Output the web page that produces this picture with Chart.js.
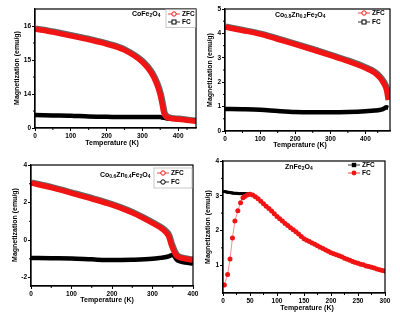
<!DOCTYPE html>
<html>
<head>
<meta charset="utf-8">
<script src="https://cdn.jsdelivr.net/npm/chart.js@4.4.1/dist/chart.umd.min.js"></script>
<style>
body { margin: 0; background: #fff; }
#wrap { position: relative; width: 400px; height: 326px; overflow: hidden; }
canvas { position: absolute; }
</style>
</head>
<body>
<div id="wrap">
  <canvas id="c1" width="200" height="160" style="left:0;top:0"></canvas>
  <canvas id="c2" width="200" height="160" style="left:200px;top:0"></canvas>
  <canvas id="c3" width="200" height="166" style="left:0;top:160px"></canvas>
  <canvas id="c4" width="200" height="171" style="left:200px;top:155px"></canvas>
</div>
<script>
// ---- CoFe2O4 (axis units: ticks 0,1,2,3 carry the labels below)
const temp1 = [0, 50, 100, 150, 200, 250, 300, 325, 340, 350, 355, 360, 365, 370, 380, 400, 425, 450];
const zfc1 = [2.91, 2.82, 2.71, 2.6, 2.47, 2.29, 1.94, 1.62, 1.3, 0.97, 0.72, 0.45, 0.35, 0.31, 0.28, 0.26, 0.23, 0.2];
const fc1 = [0.38, 0.37, 0.36, 0.34, 0.33, 0.32, 0.32, 0.32, 0.32, 0.32, 0.31, 0.3, 0.29, 0.28, 0.27, 0.26, 0.23, 0.21];
const yTickLabels1 = ['0', '14', '15', '16'];
const xTicks1 = [0, 100, 200, 300, 400];

// ---- Co0.8Zn0.2Fe2O4
const temp2 = [0, 50, 100, 150, 200, 250, 300, 350, 400, 425, 440, 450, 460, 465];
const zfc2 = [4.26, 4.12, 3.97, 3.76, 3.55, 3.33, 3.1, 2.86, 2.58, 2.4, 2.2, 2.0, 1.68, 1.27];
const fc2 = [0.9, 0.89, 0.87, 0.82, 0.78, 0.77, 0.77, 0.78, 0.81, 0.84, 0.86, 0.9, 0.97, 0.95];
const yTicks2 = [0, 1, 2, 3, 4, 5];
const xTicks2 = [0, 100, 200, 300, 400];

// ---- Co0.6Zn0.4Fe2O4
const temp3 = [0, 50, 100, 150, 200, 250, 300, 320, 330, 340, 345, 350, 355, 360, 370, 380, 400];
const zfc3 = [3.04, 2.79, 2.5, 2.2, 1.87, 1.45, 0.9, 0.65, 0.48, 0.2, -0.16, -0.45, -0.7, -0.85, -0.95, -1.0, -1.07];
const fc3 = [-0.96, -0.97, -0.98, -1.03, -1.07, -1.05, -1.0, -0.95, -0.92, -0.87, -0.82, -0.8, -0.9, -1.05, -1.15, -1.2, -1.25];
const yTicks3 = [-2, 0, 2, 4];
const xTicks3 = [0, 100, 200, 300, 400];

// ---- ZnFe2O4
const tempZfc4 = [2, 4, 6, 8, 10, 12, 14, 16, 18, 20, 22, 24, 26, 28, 30, 32, 34, 36, 38, 40, 42, 44, 46, 48, 50];
const zfc4 = [3.12, 3.12, 3.11, 3.1, 3.1, 3.09, 3.09, 3.08, 3.08, 3.07, 3.07, 3.07, 3.07, 3.06, 3.06, 3.06, 3.06, 3.06,
  3.06, 3.06, 3.06, 3.05, 3.05, 3.05, 3.05];
const tempFc4 = [2.5, 8.5, 13, 17.5, 22, 27.5, 32.5, 37, 40, 45, 50, 55, 60, 65, 70, 75, 80, 85, 90, 95,
  100, 105, 110, 115, 120, 125, 130, 135, 140, 145, 150, 155, 160, 165, 170, 175, 180, 185, 190, 195,
  200, 205, 210, 215, 220, 225, 230, 235, 240, 245, 250, 255, 260, 265, 270, 275, 280, 285, 290, 295, 300];
const fc4 = [0.43, 0.73, 1.18, 1.78, 2.27, 2.57, 2.8, 2.94, 2.98, 3.02, 3.04, 3.02, 2.97, 2.91, 2.84, 2.77, 2.7, 2.63, 2.56, 2.48,
  2.4, 2.34, 2.27, 2.2, 2.14, 2.08, 2.02, 1.96, 1.9, 1.83, 1.76, 1.72, 1.68, 1.64, 1.6, 1.56, 1.52, 1.48, 1.44, 1.4,
  1.36, 1.33, 1.3, 1.27, 1.24, 1.2, 1.17, 1.14, 1.11, 1.08, 1.06, 1.03, 1.01, 0.98, 0.96, 0.94, 0.92, 0.89, 0.87, 0.85, 0.83];
const yTicks4 = [1, 2, 3, 4];
const xTicks4 = [0, 50, 100, 150, 200, 250, 300];

const RED = '#f01414';
const FONT = 'Liberation Sans, Arial, sans-serif';
const deco = {};

function pts(xs, ys) {
    return xs.map((x, i) => ({ x: x, y: ys[i] }));
}

// text with subscript parts: [text, isSub]
function drawRich(ctx, parts, x, y, size) {
    let cx = x;
    parts.forEach(p => {
        const sub = p[1];
        ctx.font = 'bold ' + (sub ? size * 0.7 : size) + 'px ' + FONT;
        ctx.fillText(p[0], cx, sub ? y + 2 : y);
        cx += ctx.measureText(p[0]).width;
    });
}

function drawMarker(ctx, type, x, y, color) {
    ctx.save();
    ctx.strokeStyle = color;
    ctx.fillStyle = color;
    ctx.lineWidth = 1;
    if (type === 'circleOpen') {
        ctx.fillStyle = '#fff';
        ctx.beginPath(); ctx.arc(x, y, 2.2, 0, Math.PI * 2); ctx.fill(); ctx.stroke();
    } else if (type === 'squareOpen') {
        ctx.fillStyle = '#fff';
        ctx.fillRect(x - 2, y - 2, 4, 4); ctx.strokeRect(x - 2, y - 2, 4, 4);
    } else if (type === 'square') {
        ctx.fillRect(x - 2.2, y - 2.2, 4.4, 4.4);
    } else {
        ctx.beginPath(); ctx.arc(x, y, 2.4, 0, Math.PI * 2); ctx.fill();
    }
    ctx.restore();
}

const decoPlugin = {
    id: 'deco',
    beforeDatasetDraw(chart, args) {
        if (chart.data.datasets[args.index].shadow) {
            const c = chart.ctx;
            c.save();
            c.shadowColor = 'rgba(0,0,0,0.6)';
            c.shadowOffsetX = 1;
            c.shadowOffsetY = -0.8;
            c.shadowBlur = 0.5;
        }
    },
    afterDatasetDraw(chart, args) {
        if (chart.data.datasets[args.index].shadow) chart.ctx.restore();
    },
    afterDraw(chart) {
        const d = deco[chart.canvas.id];
        const ctx = chart.ctx;
        const a = chart.chartArea;
        const xs = chart.scales.x, ys = chart.scales.y;
        ctx.save();
        // frame
        ctx.strokeStyle = '#000';
        ctx.lineWidth = 1.2;
        ctx.strokeRect(a.left, a.top, a.right - a.left, a.bottom - a.top);
        // minor ticks
        ctx.lineWidth = 1;
        ctx.beginPath();
        for (let i = 0; i < d.xTicks.length - 1; i++) {
            const px = xs.getPixelForValue((d.xTicks[i] + d.xTicks[i + 1]) / 2);
            ctx.moveTo(px, a.bottom); ctx.lineTo(px, a.bottom + 2);
        }
        for (let i = 0; i < d.yTicks.length - 1; i++) {
            const py = ys.getPixelForValue((d.yTicks[i] + d.yTicks[i + 1]) / 2);
            ctx.moveTo(a.left, py); ctx.lineTo(a.left - 2, py);
        }
        ctx.stroke();
        // axis titles
        ctx.fillStyle = '#000';
        ctx.font = 'bold 7px ' + FONT;
        ctx.textAlign = 'center';
        ctx.textBaseline = 'middle';
        ctx.fillText('Temperature (K)', d.xTitle[0], d.xTitle[1]);
        ctx.save();
        ctx.translate(d.yTitle[0], d.yTitle[1]);
        ctx.rotate(-Math.PI / 2);
        ctx.fillText('Magnetization (emu/g)', 0, 0);
        ctx.restore();
        // sample name
        ctx.textAlign = 'left';
        drawRich(ctx, d.name, d.namePos[0], d.namePos[1], 7);
        // legend
        if (d.legendBox) {
            ctx.strokeStyle = '#bbb';
            ctx.lineWidth = 0.8;
            ctx.strokeRect(d.legendBox[0], d.legendBox[1], d.legendBox[2], d.legendBox[3]);
        }
        d.legend.forEach(it => {
            ctx.strokeStyle = it.color;
            ctx.lineWidth = 0.8;
            ctx.beginPath();
            ctx.moveTo(it.x, it.y); ctx.lineTo(it.x + 12, it.y);
            ctx.stroke();
            drawMarker(ctx, it.marker, it.x + 6, it.y, it.color);
            ctx.fillStyle = '#000';
            ctx.font = 'bold 6.5px ' + FONT;
            ctx.fillText(it.label, it.x + 14, it.y);
        });
        ctx.restore();
    }
};

function makePanel(id, plot, xMax, xTicks, yMin, yMax, yTicks, yText, datasets) {
    const canvas = document.getElementById(id);
    const W = canvas.width, H = canvas.height;
    return new Chart(canvas, {
        type: 'line',
        data: { datasets: datasets },
        options: {
            responsive: false,
            animation: false,
            events: [],
            layout: { padding: { left: 0, top: plot.top, right: W - plot.right, bottom: 0 } },
            plugins: { legend: { display: false }, tooltip: { enabled: false } },
            scales: {
                x: {
                    type: 'linear', min: 0, max: xMax,
                    afterBuildTicks: s => { s.ticks = xTicks.map(v => ({ value: v })); },
                    afterFit: s => { s.height = H - plot.bottom; s.paddingLeft = 0; s.paddingRight = 0; },
                    grid: { drawOnChartArea: false, tickLength: 3, color: '#000', lineWidth: 1 },
                    border: { color: '#000', width: 1.2 },
                    ticks: { color: '#000', padding: 1, maxRotation: 0, autoSkip: false,
                        font: { family: FONT, size: 6.5, weight: 'bold' } }
                },
                y: {
                    type: 'linear', min: yMin, max: yMax,
                    afterBuildTicks: s => { s.ticks = yTicks.map(v => ({ value: v })); },
                    afterFit: s => { s.width = plot.left; s.paddingTop = 0; s.paddingBottom = 0; },
                    grid: { drawOnChartArea: false, tickLength: 3, color: '#000', lineWidth: 1 },
                    border: { color: '#000', width: 1.2 },
                    ticks: { color: '#000', padding: 1, autoSkip: false,
                        callback: v => yText ? yText[yTicks.indexOf(v)] : String(v),
                        font: { family: FONT, size: 6.5, weight: 'bold' } }
                }
            }
        },
        plugins: [decoPlugin]
    });
}

function bandSet(label, xs, ys, color, width, shadow) {
    return {
        label: label, data: pts(xs, ys), borderColor: color, borderWidth: width,
        pointRadius: 0, cubicInterpolationMode: 'monotone', fill: false, shadow: shadow
    };
}

// panel 1
deco.c1 = {
    xTicks: [0, 100, 200, 300, 400, 450], yTicks: [0, 1, 2, 3],
    xTitle: [112, 143], yTitle: [17, 68],
    name: [['CoFe', 0], ['2', 1], ['O', 0], ['4', 1]], namePos: [132, 14],
    legendBox: [166, 9.5, 29.5, 18],
    legend: [
        { x: 168, y: 14, color: RED, marker: 'circleOpen', label: 'ZFC' },
        { x: 168, y: 22, color: '#000', marker: 'squareOpen', label: 'FC' }
    ]
};
makePanel('c1', { left: 35, top: 9, right: 196, bottom: 128 }, 450, xTicks1, 0, 3.5,
    [0, 1, 2, 3], yTickLabels1,
    [bandSet('ZFC', temp1, zfc1, RED, 5.5, true), bandSet('FC', temp1, fc1, '#000', 4.5, false)]);

// panel 2
deco.c2 = {
    xTicks: [0, 100, 200, 300, 400, 470], yTicks: yTicks2,
    xTitle: [100, 145], yTitle: [10, 70],
    name: [['Co', 0], ['0.8', 1], ['Zn', 0], ['0.2', 1], ['Fe', 0], ['2', 1], ['O', 0], ['4', 1]], namePos: [75, 15],
    legend: [
        { x: 158, y: 13, color: RED, marker: 'circleOpen', label: 'ZFC' },
        { x: 158, y: 22, color: '#000', marker: 'squareOpen', label: 'FC' }
    ]
};
makePanel('c2', { left: 25, top: 9, right: 190, bottom: 131 }, 470, xTicks2, 0, 5, yTicks2, null,
    [bandSet('ZFC', temp2, zfc2, RED, 5.5, true), bandSet('FC', temp2, fc2, '#000', 4.5, false)]);

// panel 3
deco.c3 = {
    xTicks: xTicks3, yTicks: [-2, 0, 2, 4],
    xTitle: [107, 140], yTitle: [15, 65],
    name: [['Co', 0], ['0.6', 1], ['Zn', 0], ['0.4', 1], ['Fe', 0], ['2', 1], ['O', 0], ['4', 1]], namePos: [100, 15],
    legendBox: [154, 8, 38, 20],
    legend: [
        { x: 157, y: 13, color: RED, marker: 'circleOpen', label: 'ZFC' },
        { x: 157, y: 22, color: '#000', marker: 'circleOpen', label: 'FC' }
    ]
};
makePanel('c3', { left: 31, top: 5, right: 193, bottom: 126 }, 400, xTicks3, -2.45, 4, yTicks3, null,
    [bandSet('ZFC', temp3, zfc3, RED, 5.5, true), bandSet('FC', temp3, fc3, '#000', 4.5, false)]);

// panel 4
deco.c4 = {
    xTicks: xTicks4, yTicks: [1, 2, 3, 4],
    xTitle: [107, 153], yTitle: [8, 72],
    name: [['ZnFe', 0], ['2', 1], ['O', 0], ['4', 1]], namePos: [85, 12],
    legend: [
        { x: 148, y: 10, color: '#000', marker: 'square', label: 'ZFC' },
        { x: 148, y: 18, color: RED, marker: 'circle', label: 'FC' }
    ]
};
makePanel('c4', { left: 23, top: 6, right: 185, bottom: 138 }, 300, xTicks4, 0.2, 4, yTicks4, null, [
    { label: 'FC', data: pts(tempFc4, fc4), borderColor: 'rgba(240,20,20,0.6)', borderWidth: 0.8,
      pointRadius: 2.5, pointBackgroundColor: RED, pointBorderWidth: 0, pointStyle: 'circle', tension: 0 },
    { label: 'ZFC', data: pts(tempZfc4, zfc4), borderColor: '#000', borderWidth: 1,
      pointRadius: 2, pointBackgroundColor: '#000', pointBorderWidth: 0, pointStyle: 'rect', tension: 0 }
]);
</script>
</body>
</html>
